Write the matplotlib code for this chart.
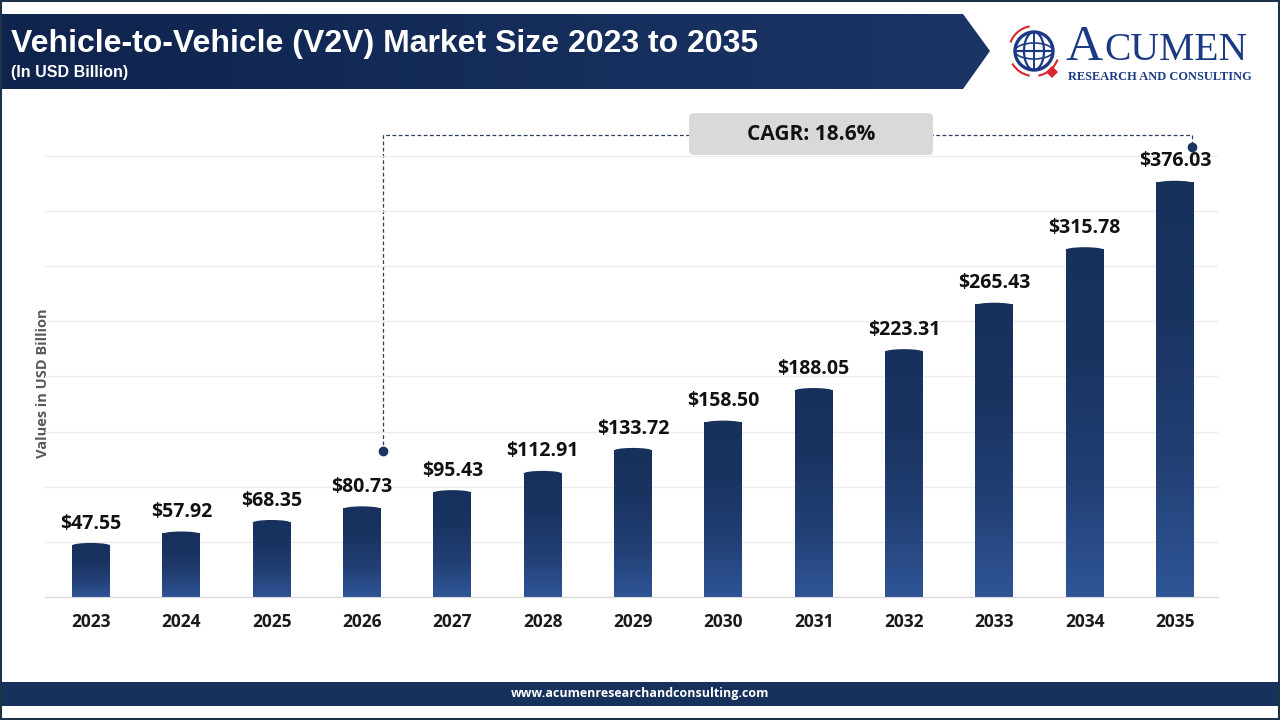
import numpy as np
import matplotlib.pyplot as plt
from matplotlib.patches import Rectangle, Ellipse, Polygon, FancyBboxPatch, Circle, Arc
from matplotlib.colors import LinearSegmentedColormap

years = ['2023', '2024', '2025', '2026', '2027', '2028', '2029',
         '2030', '2031', '2032', '2033', '2034', '2035']
values = [47.55, 57.92, 68.35, 80.73, 95.43, 112.91, 133.72,
          158.50, 188.05, 223.31, 265.43, 315.78, 376.03]
title = 'Vehicle-to-Vehicle (V2V) Market Size 2023 to 2035'
subtitle = '(In USD Billion)'
cagr = 'CAGR: 18.6%'

W, H = 1280, 720
fig = plt.figure(figsize=(12.8, 7.2), dpi=100)
fig.patch.set_facecolor('white')

# overlay axes in pixel coords for decorations
deco = fig.add_axes([0, 0, 1, 1])
deco.set_xlim(0, W)
deco.set_ylim(H, 0)
deco.axis('off')

# header band with gradient and arrow tip
hdr = Polygon([[0, 14], [963, 14], [990, 51], [963, 89], [0, 89]], closed=True,
              facecolor='none', edgecolor='none')
deco.add_patch(hdr)
hcmap = LinearSegmentedColormap.from_list('h', ['#0f244d', '#1b3567'])
im = deco.imshow(np.linspace(0, 1, 256).reshape(1, -1), cmap=hcmap, aspect='auto',
                 extent=[0, 990, 89, 14], zorder=1)
im.set_clip_path(hdr)
deco.set_xlim(0, W)
deco.set_ylim(H, 0)
deco.text(11, 44, title, color='white', fontsize=23, fontweight='bold',
          family='Liberation Sans', va='center', ha='left', zorder=3)
deco.text(11, 72, subtitle, color='white', fontsize=11.5, fontweight='bold',
          family='Liberation Sans', va='center', ha='left', zorder=3)

# logo
navy = '#1c3a84'
gx, gy, gr = 1034, 51, 19
deco.add_patch(Circle((gx, gy), gr, facecolor='white', edgecolor=navy, lw=2.4, zorder=3))
deco.add_patch(Ellipse((gx, gy), 20, 2 * gr, facecolor='none', edgecolor=navy, lw=1.6, zorder=3))
deco.add_patch(Ellipse((gx, gy), 2 * gr, 16, facecolor='none', edgecolor=navy, lw=1.2, zorder=3))
deco.plot([gx - gr, gx + gr], [gy, gy], color=navy, lw=1.6, zorder=3)
deco.plot([gx, gx], [gy - gr, gy + gr], color=navy, lw=1.4, zorder=3)
deco.add_patch(Arc((gx, gy), 2 * gr + 12, 2 * gr + 12, theta1=200, theta2=260,
                   color='#d7262c', lw=1.5, zorder=3))
deco.add_patch(Arc((gx, gy), 2 * gr + 12, 2 * gr + 12, theta1=20, theta2=80,
                   color='#d7262c', lw=1.5, zorder=3))
deco.add_patch(Arc((gx, gy), 2 * gr + 12, 2 * gr + 12, theta1=100, theta2=150,
                   color='#d7262c', lw=1.5, zorder=3))
deco.add_patch(Polygon([[1052, 66], [1058, 72], [1052, 78], [1046, 72]], closed=True,
                       facecolor='#d7262c', edgecolor='none', zorder=4))
deco.text(1066, 60, 'A', color=navy, fontsize=37, family='Liberation Serif',
          va='baseline', ha='left', zorder=3)
deco.text(1104, 60, 'CUMEN', color=navy, fontsize=28.5, family='Liberation Serif',
          va='baseline', ha='left', zorder=3)
deco.text(1068, 77, 'RESEARCH AND CONSULTING', color=navy, fontsize=8.9,
          family='Liberation Serif', fontweight='bold', va='center', ha='left', zorder=3)

# footer band
deco.add_patch(Rectangle((0, 682), W, 24, facecolor='#16325c', edgecolor='none', zorder=1))
deco.text(640, 694, 'www.acumenresearchandconsulting.com', color='white', fontsize=9,
          fontweight='bold', family='Open Sans', ha='center', va='center', zorder=3)

# outer border
deco.add_patch(Rectangle((1, 1), W - 2, H - 2, facecolor='none', edgecolor='#1f3346', lw=1.5, zorder=5))

# y axis label
deco.text(43, 383, 'Values in USD Billion', color='#595959', fontsize=10.5, fontweight='bold',
          family='Open Sans', rotation=90, ha='center', va='center')

# main chart axes
ax = fig.add_axes([45 / W, 1 - 597 / H, (1218 - 45) / W, (597 - 156) / H])
ax.set_facecolor('none')
x = np.arange(len(years))
ax.set_yticks(np.arange(0, 401, 50))
ax.yaxis.grid(True, color='#ececec', lw=1)
ax.set_axisbelow(True)
ax.tick_params(axis='y', left=False, labelleft=False)
ax.tick_params(axis='x', bottom=False, pad=8)
for s in ['top', 'right', 'left']:
    ax.spines[s].set_visible(False)
ax.spines['bottom'].set_color('#d9d9d9')
ax.set_xticks(x)
ax.set_xticklabels(years, fontsize=12.5, fontweight='bold', family='Open Sans', color='#1a1a1a')

bcmap = LinearSegmentedColormap.from_list('b', ['#2f5597', '#223f74', '#1a3462', '#17305c'])
bw = 0.42
cap = 2.5
bars = ax.bar(x, values, width=bw, color='none', edgecolor='none', zorder=2)
for b, v in zip(bars, values):
    x0 = b.get_x()
    imb = ax.imshow(np.linspace(0, 1, 256).reshape(-1, 1), cmap=bcmap, aspect='auto',
                    origin='lower', extent=[x0, x0 + bw, 0, v], zorder=2)
    imb.set_clip_path(b)
    ax.add_patch(Ellipse((x0 + bw / 2, v - 1), bw, cap * 2, facecolor='#17305c',
                         edgecolor='none', zorder=3))
    ax.text(x0 + bw / 2, v + 10, f'${v:.2f}', ha='center', va='bottom', fontsize=14,
            fontweight='bold', family='Open Sans', color='#111111')
ax.set_xlim(-0.509, 12.476)
ax.set_ylim(0, 400)

# CAGR annotation in pixel coords
deco.plot([383, 383, 1192, 1192], [451, 135, 135, 147], ls=(0, (3, 2)), color='#2b3f5c',
          lw=0.9, zorder=2)
deco.plot([383, 1192], [451, 147], 'o', color='#1a3462', ms=6, zorder=3)
deco.add_patch(FancyBboxPatch((691, 115), 240, 38, boxstyle='round,pad=2,rounding_size=5',
                              facecolor='#d9d9d9', edgecolor='none', zorder=3))
deco.text(811, 134, cagr, ha='center', va='center', fontsize=15, fontweight='bold',
          family='Open Sans', color='#111111', zorder=4)

fig.savefig('out.png', dpi=100, facecolor='white')
